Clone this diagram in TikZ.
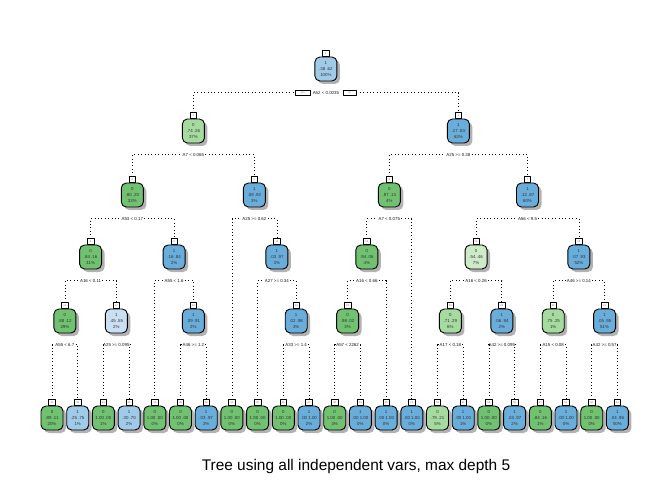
\documentclass[tikz,border=0pt]{standalone}
\usepackage{fontspec}
\setmainfont{Liberation Sans}
\usetikzlibrary{positioning,shadows}
\definecolor{g1}{HTML}{CDEBC6}
\definecolor{g2}{HTML}{A6DBA0}
\definecolor{g3}{HTML}{70C270}
\definecolor{b1}{HTML}{C9DFF2}
\definecolor{b2}{HTML}{A0CBE8}
\definecolor{b3}{HTML}{69ADDA}
\begin{document}
\begin{tikzpicture}[x=1bp,y=-1bp,line join=round,
  box/.style={draw,line width=0.9bp,fill=#1,rounded corners=5bp,minimum width=22bp,minimum height=24bp,
    inner sep=0.5bp,align=center,font=\fontsize{4.4}{6}\selectfont,text=black!80,
    drop shadow={shadow xshift=3bp,shadow yshift=-3bp,fill=black!30,opacity=1}},
  tab/.style={draw,line width=0.6bp,fill=white,minimum width=6.5bp,minimum height=5.5bp,inner sep=0.3bp,
    font=\fontsize{2.6}{3}\selectfont,text=red!40!black!60},
  yesno/.style={draw,line width=0.6bp,fill=white,minimum height=5bp,inner sep=0.3bp,
    font=\fontsize{2.6}{3}\selectfont,text=red!40!black!60},
  split/.style={inner sep=1bp,font=\fontsize{4.4}{5}\selectfont,text=black!90},
  edge/.style={line width=0.8bp,dash pattern=on 0.8bp off 2.6bp}]
\useasboundingbox (0,0) rectangle (672,480);
% boxes: number/x/y/colour/class/probs/percent
\foreach \n/\x/\y/\col/\k/\p/\s in {
  1/325.9/69/b2/1/.38 .62/100,
  2/193.4/131/g2/0/.74 .26/37, 3/458.4/131/b3/1/.17 .83/63,
  4/132.3/195/g3/0/.80 .20/33, 5/254.4/195/b3/1/.08 .92/3, 6/389.3/195/g3/0/.87 .13/4, 7/527.5/195/b3/1/.13 .87/60,
  8/90.6/257/g3/0/.84 .16/31, 9/174.1/257/b3/1/.16 .84/2, 11/276.9/257/b3/1/.03 .97/3,
  12/366.8/257/g3/0/.94 .06/4, 14/476.1/257/g1/0/.54 .46/7, 15/578.9/257/b3/1/.07 .93/52,
  16/64.9/321/g3/0/.88 .12/29, 17/116.3/321/b1/1/.45 .55/2, 19/193.4/321/b3/1/.09 .91/2,
  23/296.2/321/b3/1/.02 .98/3, 24/347.6/321/g3/0/.98 .02/3, 28/450.4/321/g2/0/.71 .29/6,
  29/501.8/321/b3/1/.06 .94/2, 30/553.2/321/g2/0/.75 .25/1, 31/604.6/321/b3/1/.05 .95/51,
  32/52.0/418/g3/0/.89 .11/20, 33/77.7/418/b2/1/.25 .75/1, 34/103.4/418/g3/0/1.00 .00/1,
  35/129.1/418/b2/1/.30 .70/2, 18/154.8/418/g3/0/1.00 .00/0, 38/180.5/418/g3/0/1.00 .00/0,
  39/206.2/418/b3/1/.03 .97/2, 10/231.9/418/g3/0/1.00 .00/0, 22/257.6/418/g3/0/1.00 .00/0,
  46/283.3/418/g3/0/1.00 .00/0, 47/309.0/418/b3/1/.00 1.00/2, 48/334.7/418/g3/0/1.00 .00/3,
  49/360.4/418/b3/1/.00 1.00/0, 25/386.1/418/b3/1/.00 1.00/0, 13/411.8/418/b3/1/.00 1.00/0,
  56/437.5/418/g2/0/.79 .21/5, 57/463.2/418/b3/1/.00 1.00/1, 58/488.9/418/g3/0/1.00 .00/0,
  59/514.6/418/b3/1/.03 .97/2, 60/540.3/418/g3/0/.84 .16/1, 61/566.0/418/b3/1/.00 1.00/0,
  62/591.7/418/g3/0/1.00 .00/0, 63/617.4/418/b3/1/.04 .96/50}
  {\node[box=\col] (n\n) at (\x,\y) {\k\\\p\\\s\%};
   \node[tab,above=0pt of n\n] (t\n) {\n};}
% root split with yes / no
\node[split,below=8.5bp of n1] (s1) {A52 < 0.0035};
\node[yesno,minimum width=15bp,left=1bp of s1] (yes) {yes};
\node[yesno,minimum width=13bp,right=2.5bp of s1] (no) {no};
\draw[edge] (t2.north) |- (yes.west);
\draw[edge] (no.east) -| (t3.north);
% other splits: parent/left/right/label
\foreach \p/\l/\r/\lab in {2/4/5/A7 < 0.065, 3/6/7/A25 >= 0.38, 4/8/9/A53 < 0.17, 5/10/11/A25 >= 0.62,
  6/12/13/A7 < 0.075, 7/14/15/A56 < 9.5, 8/16/17/A16 < 0.11, 9/18/19/A55 < 1.6, 11/22/23/A27 >= 0.34,
  12/24/25/A16 < 0.66, 14/28/29/A16 < 0.26, 15/30/31/A46 >= 0.14, 16/32/33/A55 < 6.7,
  17/34/35/A25 >= 0.095, 19/38/39/A46 >= 1.2, 23/46/47/A33 >= 1.4, 24/48/49/A57 < 2262,
  28/56/57/A17 < 0.18, 29/58/59/A42 >= 0.095, 30/60/61/A15 < 0.08, 31/62/63/A42 >= 0.57}
  {\node[split,below=8.5bp of n\p] (s\p) {\lab};
   \draw[edge] (t\l.north) |- (s\p.west);
   \draw[edge] (s\p.east) -| (t\r.north);}
\node[font=\fontsize{15.5}{18}\selectfont] (title) at (356,467) {Tree using all independent vars, max depth 5};
\end{tikzpicture}
\end{document}
